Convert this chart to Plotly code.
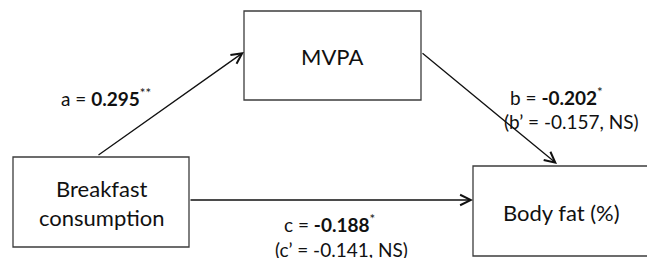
import plotly.graph_objects as go

# ---- content ----
node_labels = ["Breakfast<br>consumption", "MVPA", "Body fat (%)"]
path_names = ["a", "b", "c"]
path_coefs = ["0.295", "-0.202", "-0.188"]
path_stars = ["**", "*", "*"]
adj_names = [None, "b\u2019", "c\u2019"]
adj_coefs = [None, "-0.157", "-0.141"]
adj_sig = [None, "NS", "NS"]

# ---- layout (pixel canvas, page coordinates) ----
W, H = 655, 258
PAGE_MARGIN = 8  # default body margin of the page
boxes = {  # x0, y0, x1, y1
    0: (13, 157, 189, 247),
    1: (244, 11, 421, 100),
    2: (473, 166, 648, 256),
}
label_pos = {0: (101, 203), 1: (332, 56), 2: (561, 212)}
# arrows: (tail_x, tail_y, head_x, head_y)
arrows = {
    "a": (97, 156, 244, 52),
    "b": (421, 52, 557, 164),
    "c": (189, 200, 473, 200),
}
coef_pos = {"a": (106, 97, "center"), "b": (508, 96, "left"), "c": (329, 223, "center")}
adj_pos = {"b": (502, 121, "left"), "c": (341, 249, "center")}

FONT = "Lato"
TXT = "#111111"

fig = go.Figure()
shapes = []
for i, (x0, y0, x1, y1) in boxes.items():
    shapes.append(dict(type="rect", x0=x0, y0=y0, x1=x1, y1=y1, xref="x", yref="y",
                       line=dict(color="#3c3c3c", width=1.3), fillcolor="white", layer="below"))

annotations = []
for i, lab in enumerate(node_labels):
    x, y = label_pos[i]
    annotations.append(dict(x=x, y=y, xref="x", yref="y", text=lab, showarrow=False,
                            font=dict(family=FONT, size=22, color=TXT), align="center"))

for name, (tx, ty, hx, hy) in arrows.items():
    annotations.append(dict(x=hx, y=hy, ax=tx, ay=ty, xref="x", yref="y", axref="x", ayref="y",
                            text="", showarrow=True, arrowhead=5, arrowsize=1.6, arrowwidth=1.3,
                            arrowcolor="#111111", standoff=0, startstandoff=0))

for k, name in enumerate(path_names):
    x, y, anc = coef_pos[name]
    txt = f"{name} = <b>{path_coefs[k]}</b><sup>{path_stars[k]}</sup>"
    annotations.append(dict(x=x, y=y, xref="x", yref="y", text=txt, showarrow=False,
                            xanchor=anc, yanchor="middle",
                            font=dict(family=FONT, size=19, color=TXT)))
    if adj_names[k]:
        x2, y2, anc2 = adj_pos[name]
        txt2 = f"({adj_names[k]} = {adj_coefs[k]}, {adj_sig[k]})"
        annotations.append(dict(x=x2, y=y2, xref="x", yref="y", text=txt2, showarrow=False,
                                xanchor=anc2, yanchor="middle",
                                font=dict(family=FONT, size=19, color=TXT)))

fig.update_layout(
    width=W - PAGE_MARGIN, height=H - PAGE_MARGIN, margin=dict(l=0, r=0, t=0, b=0),
    paper_bgcolor="white", plot_bgcolor="white",
    xaxis=dict(range=[PAGE_MARGIN, W], visible=False, fixedrange=True),
    yaxis=dict(range=[H, PAGE_MARGIN], visible=False, fixedrange=True),
    shapes=shapes, annotations=annotations, showlegend=False,
)
fig.write_html("out.html", config={"displayModeBar": False})
